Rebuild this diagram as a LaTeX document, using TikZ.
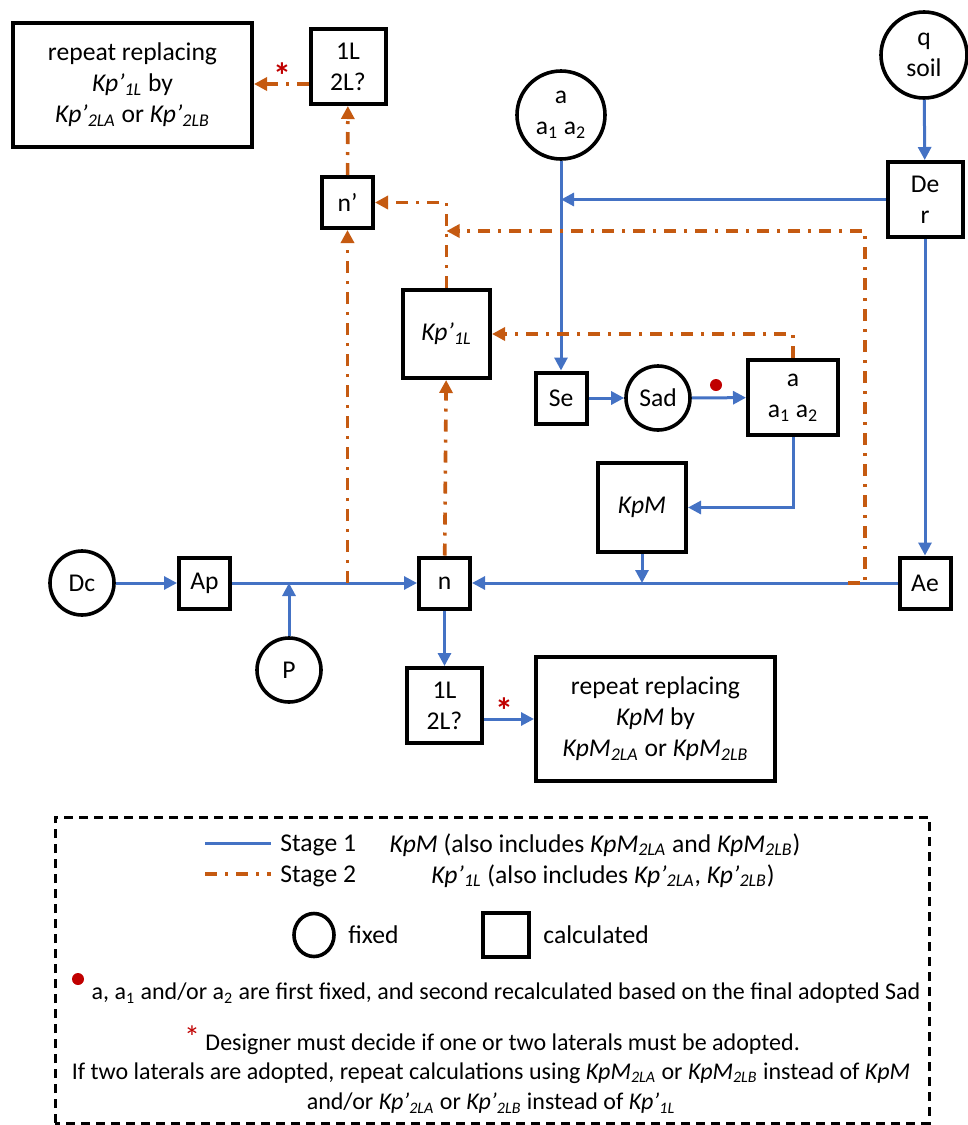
\documentclass[tikz,border=0pt]{standalone}
\usepackage{fontspec}
\setmainfont{Carlito}
\usepackage{tikz}
\usetikzlibrary{arrows.meta,calc}
\definecolor{stageblue}{HTML}{4472C4}
\definecolor{stageorange}{HTML}{C55A11}
\definecolor{markred}{HTML}{C00000}
\newcommand\kpp[1]{\textit{Kp’\textsubscript{#1}}}
\newcommand\kpm[1]{\textit{KpM\textsubscript{#1}}}
\tikzset{
  bluewire/.style={draw=stageblue, line width=1.5pt},
  orangewire/.style={draw=stageorange, line width=1.8pt, dash pattern=on 6pt off 4pt on 1.5pt off 4pt},
  stageone/.style={bluewire, -{Triangle[length=6.5pt,width=6.5pt]}},
  stagetwo/.style={orangewire, -{Triangle[length=6.5pt,width=6.5pt]}},
  fixednode/.style={circle, draw, line width=1.8pt, minimum size=32pt, inner sep=0pt, align=center},
  calcnode/.style={rectangle, draw, line width=2pt, minimum width=25.5pt, minimum height=25.5pt, inner sep=0pt, align=center},
  bigbox/.style={calcnode, minimum width=119.5pt, minimum height=62pt},
  midbox/.style={calcnode, minimum width=37.5pt, minimum height=37.5pt},
  notetext/.style={inner sep=0pt, font=\fontsize{12}{14.5}\selectfont}
}
\begin{document}
\begin{tikzpicture}[x=0.5pt, y=-0.5pt, font=\fontsize{12.8}{15.5}\selectfont]
		\useasboundingbox (0,0) rectangle (968,1125);
		
		%%%%% NODES %%%%%
		\node[bigbox] (repeattop) at (132.5,85) {repeat replacing\\\kpp{1L} by\\\kpp{2LA} or \kpp{2LB}};
		\node[midbox] (lltop) at (348,66.5) {1L\\2L?};
		\node[calcnode] (nprime) at (347.5,202.5) {n’};
		\node[calcnode, minimum width=43.5pt, minimum height=44pt] (kpone) at (446.5,334) {\kpp{1L}};
		\node[fixednode, minimum size=44pt] (acirc) at (561,115) {a\\a\textsubscript{1} a\textsubscript{2}};
		\node[fixednode, minimum size=43pt] (qsoil) at (924,55) {q\\soil};
		\node[midbox] (der) at (925,199.5) {De\\r};
		\node[calcnode] (se) at (561,398) {Se};
		\node[fixednode] (sad) at (658,398) {Sad};
		\node[calcnode, minimum width=45pt, minimum height=37.5pt] (abox) at (793,397.5) {a\\a\textsubscript{1} a\textsubscript{2}};
		\node[calcnode, minimum width=44pt, minimum height=44.5pt] (kpmbox) at (642,507.5) {\textit{KpM}};
		\node[fixednode] (dc) at (82,583) {Dc};
		\node[calcnode] (ap) at (204.5,583) {Ap};
		\node[fixednode] (p) at (289,670) {P};
		\node[calcnode] (n) at (444.5,583) {n};
		\node[calcnode] (ae) at (925,583) {Ae};
		\node[midbox] (llbot) at (444.5,705.5) {1L\\2L?};
		\node[bigbox] (repeatbot) at (655.5,719) {repeat replacing\\\textit{KpM} by\\\kpm{2LA} or \kpm{2LB}};
		
		\coordinate (pjoin) at (p |- n);
		\coordinate (kjoin) at (kpmbox |- n);
		\coordinate (loopfoot) at (848,583);
		\coordinate (loopcorner) at (865,231);
		\coordinate (asklink) at ($(lltop.west)+(0,17.5)$);
		
		%%%%% STAGE 1 %%%%%
		\draw[stageone] (dc) -- (ap);
		\draw[stageone] (ap) -- (n);
		\draw[stageone] (p) -- (pjoin);
		\draw[stageone] (ae) -- (n);
		\draw[stageone] (kpmbox) -- (kjoin);
		\draw[stageone] (n) -- (llbot);
		\draw[stageone] (llbot.east |- repeatbot.west) -- (repeatbot.west);
		\draw[stageone] (qsoil) -- (der);
		\draw[stageone] (der) -- (ae);
		\draw[stageone] (der.west) -- (der.west -| acirc);
		\draw[stageone] (acirc) -- (se);
		\draw[stageone] (se) -- (sad);
		\draw[stageone] (sad) -- (abox);
		\draw[stageone] (abox.south) |- (kpmbox.east);
		
		%%%%% STAGE 2 %%%%%
		\draw[stagetwo] (nprime |- n) -- (nprime);
		\draw[stagetwo] (nprime) -- (lltop);
		\draw[stagetwo] (asklink) -- (asklink -| repeattop.east);
		\draw[stagetwo] (n) -- (kpone);
		\draw[stagetwo] (kpone.north) |- (nprime.east);
		\draw[stagetwo] (loopfoot) -| (loopcorner) -- (loopcorner -| kpone);
		\draw[stagetwo] (abox.north) |- (kpone.east);
		
		%%%%% MARKS %%%%%
		\fill[markred] (716,385) circle (3pt);
		\node[text=markred, font=\bfseries\fontsize{18}{18}\selectfont] (asktop) at (282,76) {*};
		\node[text=markred, font=\bfseries\fontsize{18}{18}\selectfont] (askbot) at (504,711) {*};
		
		%%%%% LEGEND %%%%%
		\draw[line width=1.5pt, dash pattern=on 4.5pt off 3pt] (55,1123) rectangle (929,817);
		\draw[bluewire] (205,843) -- (271,843);
		\draw[orangewire] (205,874) -- (271,874);
		\node[anchor=west, inner sep=0pt] (stageA) at (280,845) {Stage 1};
		\node[anchor=west, inner sep=0pt] (stageB) at (280,876) {Stage 2};
		\node (stageAnote) at (595,845) {\textit{KpM} (also includes \kpm{2LA} and \kpm{2LB})};
		\node (stageBnote) at (603,876) {\kpp{1L} (also includes \kpp{2LA}, \kpp{2LB})};
		\draw[line width=1.8pt] (314,935) ellipse [x radius=10pt, y radius=10.75pt];
		\node[anchor=west, inner sep=0pt] (fixedtxt) at (348,935) {fixed};
		\draw[line width=1.8pt] (483,913) rectangle (529,957);
		\node[anchor=west, inner sep=0pt] (calctxt) at (543,935) {calculated};
		
		\fill[markred] (78,979) circle (3pt);
		\node[notetext] (noteA) at (506,993) {a, a\textsubscript{1} and/or a\textsubscript{2} are first fixed, and second recalculated based on the final adopted Sad};
		\node[notetext] (noteB) at (492,1040) {\textcolor{markred}{\fontsize{16}{16}\selectfont\raisebox{1pt}{*}} Designer must decide if one or two laterals must be adopted.};
		\node[notetext] (noteC) at (491,1073) {If two laterals are adopted, repeat calculations using \kpm{2LA} or \kpm{2LB} instead of \textit{KpM}};
		\node[notetext] (noteD) at (491,1103) {and/or \kpp{2LA} or \kpp{2LB} instead of \kpp{1L}};
		
	\end{tikzpicture}
\end{document}
